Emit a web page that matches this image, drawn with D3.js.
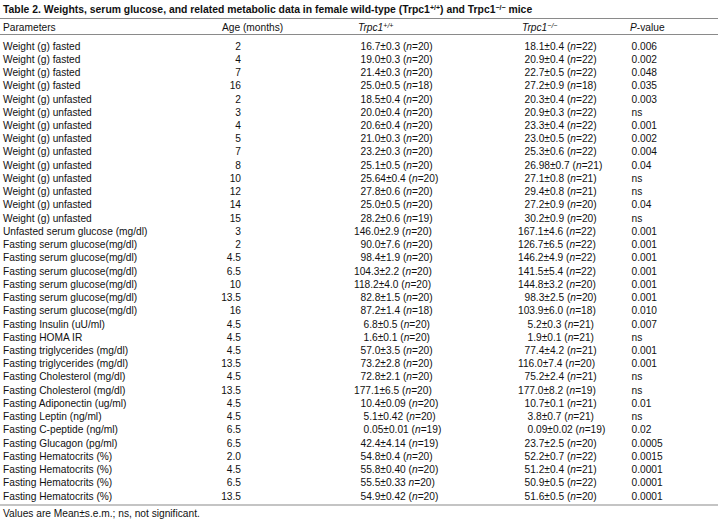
<!DOCTYPE html>
<html>
<head>
<meta charset="utf-8">
<script src="https://cdn.jsdelivr.net/npm/d3@7"></script>
<style>
  body { margin: 0; background: #fff; }
  text { font-family: "Liberation Sans", Arial, sans-serif; fill: #111; }
</style>
</head>
<body>
<div id="table"></div>
<script>
// table content, one array per column
const params = [
  "Weight (g) fasted", "Weight (g) fasted", "Weight (g) fasted", "Weight (g) fasted",
  "Weight (g) unfasted", "Weight (g) unfasted", "Weight (g) unfasted", "Weight (g) unfasted",
  "Weight (g) unfasted", "Weight (g) unfasted", "Weight (g) unfasted", "Weight (g) unfasted",
  "Weight (g) unfasted", "Weight (g) unfasted",
  "Unfasted serum glucose (mg/dl)",
  "Fasting serum glucose(mg/dl)", "Fasting serum glucose(mg/dl)", "Fasting serum glucose(mg/dl)",
  "Fasting serum glucose(mg/dl)", "Fasting serum glucose(mg/dl)", "Fasting serum glucose(mg/dl)",
  "Fasting Insulin (uU/ml)", "Fasting HOMA IR",
  "Fasting triglycerides (mg/dl)", "Fasting triglycerides (mg/dl)",
  "Fasting Cholesterol (mg/dl)", "Fasting Cholesterol (mg/dl)",
  "Fasting Adiponectin (ug/ml)", "Fasting Leptin (ng/ml)", "Fasting C-peptide (ng/ml)",
  "Fasting Glucagon (pg/ml)",
  "Fasting Hematocrits (%)", "Fasting Hematocrits (%)", "Fasting Hematocrits (%)", "Fasting Hematocrits (%)"
];
const ages = ["2", "4", "7", "16", "2", "3", "4", "5", "7", "8", "10", "12", "14", "15", "3",
  "2", "4.5", "6.5", "10", "13.5", "16", "4.5", "4.5", "4.5", "13.5", "4.5", "13.5",
  "4.5", "4.5", "6.5", "6.5", "2.0", "4.5", "6.5", "13.5"];
const wildType = [
  "16.7±0.3 (n=20)", "19.0±0.3 (n=20)", "21.4±0.3 (n=20)", "25.0±0.5 (n=18)",
  "18.5±0.4 (n=20)", "20.0±0.4 (n=20)", "20.6±0.4 (n=20)", "21.0±0.3 (n=20)",
  "23.2±0.3 (n=20)", "25.1±0.5 (n=20)", "25.64±0.4 (n=20)", "27.8±0.6 (n=20)",
  "25.0±0.5 (n=20)", "28.2±0.6 (n=19)", "146.0±2.9 (n=20)",
  "90.0±7.6 (n=20)", "98.4±1.9 (n=20)", "104.3±2.2 (n=20)", "118.2±4.0 (n=20)",
  "82.8±1.5 (n=20)", "87.2±1.4 (n=18)", "6.8±0.5 (n=20)", "1.6±0.1 (n=20)",
  "57.0±3.5 (n=20)", "73.2±2.8 (n=20)", "72.8±2.1 (n=20)", "177.1±6.5 (n=20)",
  "10.4±0.09 (n=20)", "5.1±0.42 (n=20)", "0.05±0.01 (n=19)", "42.4±4.14 (n=19)",
  "54.8±0.4 (n=20)", "55.8±0.40 (n=20)", "55.5±0.33 n=20)", "54.9±0.42 (n=20)"
];
const knockout = [
  "18.1±0.4 (n=22)", "20.9±0.4 (n=22)", "22.7±0.5 (n=22)", "27.2±0.9 (n=18)",
  "20.3±0.4 (n=22)", "20.9±0.3 (n=22)", "23.3±0.4 (n=22)", "23.0±0.5 (n=22)",
  "25.3±0.6 (n=22)", "26.98±0.7 (n=21)", "27.1±0.8 (n=21)", "29.4±0.8 (n=21)",
  "27.2±0.9 (n=20)", "30.2±0.9 (n=20)", "167.1±4.6 (n=22)",
  "126.7±6.5 (n=22)", "146.2±4.9 (n=22)", "141.5±5.4 (n=22)", "144.8±3.2 (n=20)",
  "98.3±2.5 (n=20)", "103.9±6.0 (n=18)", "5.2±0.3 (n=21)", "1.9±0.1 (n=21)",
  "77.4±4.2 (n=21)", "116.0±7.4 (n=20)", "75.2±2.4 (n=21)", "177.0±8.2 (n=19)",
  "10.7±0.1 (n=21)", "3.8±0.7 (n=21)", "0.09±0.02 (n=19)", "23.7±2.5 (n=20)",
  "52.2±0.7 (n=22)", "51.2±0.4 (n=21)", "50.9±0.5 (n=22)", "51.6±0.5 (n=20)"
];
const pValues = ["0.006", "0.002", "0.048", "0.035", "0.003", "ns", "0.001", "0.002", "0.004",
  "0.04", "ns", "ns", "0.04", "ns", "0.001", "0.001", "0.001", "0.001", "0.001", "0.001",
  "0.010", "0.007", "ns", "0.001", "0.001", "ns", "ns", "0.01", "ns", "0.02", "0.0005",
  "0.0015", "0.0001", "0.0001", "0.0001"];

const w = 720;
const h = 522;
const fs = 10.2;

const svg = d3.select("#table").append("svg")
  .attr("width", w)
  .attr("height", h);

svg.append("rect").attr("width", w).attr("height", h).attr("fill", "#fff");

// rows are placed by a point scale
const y = d3.scalePoint()
  .domain(d3.range(params.length))
  .range([46, 496]);

// title
const title = svg.append("text")
  .attr("x", 3)
  .attr("y", 9)
  .attr("dy", "0.35em")
  .style("font-size", "10.4px")
  .style("font-weight", "bold");
title.append("tspan").text("Table 2. Weights, serum glucose, and related metabolic data in female wild-type (Trpc1");
title.append("tspan").attr("dy", -3).style("font-size", "7px").text("+/+");
title.append("tspan").attr("dy", 3).text(") and Trpc1");
title.append("tspan").attr("dy", -3).style("font-size", "7px").text("\u2212/\u2212");
title.append("tspan").attr("dy", 3).text(" mice");

// rules
[18.5, 34.5, 505].forEach(ly => {
  svg.append("line")
    .attr("x1", 0).attr("x2", 718)
    .attr("y1", ly).attr("y2", ly)
    .attr("stroke", "#8a8a8a")
    .attr("stroke-width", 1.2);
});

// header
const header = svg.append("g").style("font-size", fs + "px");
header.append("text").attr("x", 3).attr("y", 27).attr("dy", "0.35em").text("Parameters");
header.append("text").attr("x", 222).attr("y", 27).attr("dy", "0.35em").text("Age (months)");
let hw = header.append("text").attr("x", 358).attr("y", 27).attr("dy", "0.35em").style("font-style", "italic");
hw.append("tspan").text("Trpc1");
hw.append("tspan").attr("dy", -3).style("font-size", "7px").text("+/+");
let hk = header.append("text").attr("x", 522).attr("y", 27).attr("dy", "0.35em").style("font-style", "italic");
hk.append("tspan").text("Trpc1");
hk.append("tspan").attr("dy", -3).style("font-size", "7px").text("\u2212/\u2212");
let hp = header.append("text").attr("x", 630).attr("y", 27).attr("dy", "0.35em");
hp.append("tspan").style("font-style", "italic").text("P");
hp.append("tspan").text("-value");

// shift value cells by the number of digits before the decimal point
function shift(s) {
  let digits = s.split(".")[0].length;
  if (digits === 1) return 3;
  if (digits === 3) return -6.5;
  return 0;
}

// write a value with an italic n
function valueCell(sel, s) {
  let i = s.indexOf("n=");
  sel.append("tspan").text(s.slice(0, i));
  sel.append("tspan").style("font-style", "italic").text("n");
  sel.append("tspan").text(s.slice(i + 1));
}

const rows = svg.selectAll(".row")
  .data(params)
  .enter()
  .append("g")
  .attr("class", "row")
  .attr("transform", (d, i) => "translate(0," + y(i) + ")")
  .style("font-size", fs + "px");

rows.append("text").attr("x", 3).attr("dy", "0.35em").text(d => d);
rows.append("text").attr("x", 241).attr("dy", "0.35em").attr("text-anchor", "end").text((d, i) => ages[i]);
rows.append("text")
  .attr("x", (d, i) => 360.5 + shift(wildType[i]))
  .attr("dy", "0.35em")
  .each(function (d, i) { valueCell(d3.select(this), wildType[i]); });
rows.append("text")
  .attr("x", (d, i) => 524.5 + shift(knockout[i]))
  .attr("dy", "0.35em")
  .each(function (d, i) { valueCell(d3.select(this), knockout[i]); });
rows.append("text").attr("x", 631.5).attr("dy", "0.35em").text((d, i) => pValues[i]);

// footnote
svg.append("text")
  .attr("x", 3)
  .attr("y", 513)
  .attr("dy", "0.35em")
  .style("font-size", fs + "px")
  .text("Values are Mean±s.e.m.; ns, not significant.");
</script>
</body>
</html>
